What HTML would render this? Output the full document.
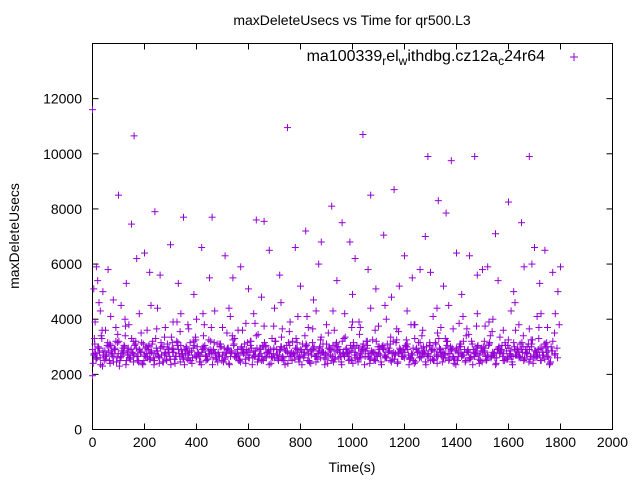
<!DOCTYPE html>
<html><head><meta charset="utf-8"><style>
html,body{margin:0;padding:0;background:#fff}
svg{display:block;font-family:"Liberation Sans",sans-serif}
</style></head><body>
<svg id="chart" width="640" height="480" viewBox="0 0 640 480" xmlns="http://www.w3.org/2000/svg">
<text x="352" y="25" font-size="14" text-anchor="middle">maxDeleteUsecs vs Time for qr500.L3</text>
<rect x="92.5" y="43.5" width="520" height="386" fill="none" stroke="#000" stroke-width="1"/>
<g id="axes"></g>
<g id="points"></g>
<text transform="translate(19,236) rotate(-90)" font-size="14" text-anchor="middle">maxDeleteUsecs</text>
<text x="352" y="472" font-size="14" text-anchor="middle">Time(s)</text>
<text x="545" y="61" font-size="16" text-anchor="end">ma100339<tspan dy="4" font-size="12">r</tspan><tspan dy="-4">el</tspan><tspan dy="4" font-size="12">w</tspan><tspan dy="-4">ithdbg.cz12a</tspan><tspan dy="4" font-size="12">c</tspan><tspan dy="-4">24r64</tspan></text>
<g stroke="#9400d3" stroke-width="1"><line x1="570" y1="57" x2="578" y2="57"/><line x1="574" y1="53" x2="574" y2="61"/></g>
</svg>
<script>
const xTicks=[0,200,400,600,800,1000,1200,1400,1600,1800,2000];
const yTicks=[0,2000,4000,6000,8000,10000,12000];
const bandA=[2900,3100,2600,2800,3300,2500,2700,3000,2850,2450,3200,2750,2600,2950,3400,2700,2550,2800,3050,2650,2900,3150,2500,2750,3000,2850,2600,3300,2700,2950,2450,2800,3100,2650,2900,2550,3200,2750,2850,2600,3000,2700,2500,2950,3350,2800,2650,2900,3050,2550,2750,2850,3150,2600,2700,3000,2450,2800,2950,2650,3250,2750,2900,2550,2800,3100,2700,2600,2950,2850,3400,2650,2750,2500,3000,2800,2900,2600,3200,2700,2850,2550,2950,3050,2650,2800,2750,3300,2600,2900,2700,3000,2500,2850,3150,2650,2750,2950,2800,2600,3100,2700,2900,2450,2850,3000,2650,2750,3350,2800,2550,2950,2700,3050,2600,2850,2900,3200,2650,2750,2800,2500,3000,2700,2950,2600,3100,2850,2750,2550,3250,2800,2650,2900,3000,2700,2600,2950,2450,2800,3150,2750,2850,2650,3050,2900,2550,2700,3300,2800,2600,2950,2750,3000,2650,2850,2500,3100,2700,2900,2800,2600,3200,2750,2950,2550,2850,3000,2650,2700,3400,2800,2600,2900,2750,3050,2500,2850,2950,2650,3150,2700,2800,2600,3000,2900,2750,2550,3250,2850,2650,2700,2950,3100,2800,2600,3000];
const bandB=[2700,2550,3000,2350,2850,2650,3150,2400,2750,2950,2600,2300,2850,3050,2500,2700,2900,2450,3200,2650,2800,2350,2950,2600,2750,3100,2500,2850,2400,2700,3000,2550,2800,2350,2950,2650,3150,2450,2750,2900,2550,2800,2400,3050,2650,2700,2350,2950,2500,2850,3200,2600,2750,2450,3000,2700,2550,2900,2350,2800,3100,2650,2500,2950,2750,2400,2850,3050,2600,2700,2450,2900,2550,3150,2800,2350,2650,2950,2700,2500,3000,2600,2850,2400,2750,3200,2550,2900,2650,2350,2800,3050,2500,2700,2950,2450,2850,2600,3100,2750,2400,2900,2650,2550,3000,2800,2350,2700,2950,2500,2850,3150,2600,2450,2750,2900,2650,3050,2400,2800,2550,2700,3000,2350,2950,2600,2850,2500,3200,2750,2450,2900,2650,2800,3100,2550,2700,2400,2950,2850,2600,3000,2350,2750,2500,2900,3150,2650,2800,2450,2700,3050,2550,2850,2400,2950,2650,2750,3200,2500,2900,2600,2350,2800,3000,2700,2450,2850,2550,3100,2650,2750,2400,2950,2800,2500,3050,2600,2700,2350,2900,2850,2650,3150,2550,2750,2450,3000,2700,2600,2900,2500,2800,3100,2650,2400,2850,2700,2950];
const bandC=[3300,3600,3100,3450,3750,3200,3500,3050,3650,3350,3150,3550,3800,3250,3400,3700,3100,3500,3300,3600,3200,3450,3050,3750,3350,3550,3150,3400,3650,3250,3500,3100,3300,3700,3450,3200,3600,3050,3350,3550,3250,3800,3400,3150,3500,3300,3650,3100,3450,3750,3200,3550,3350,3050,3600,3400,3250,3700,3150,3500];
const midT=[10,30,50,70,90,110,140,180,210,250,280,310,340,370,400,430,470,500,530,560,590,620,660,700,730,760,790,830,860,900,930,970,1000,1030,1070,1100,1130,1170,1210,1240,1270,1310,1340,1370,1410,1440,1480,1510,1540,1580,1610,1640,1680,1710,1750,1780,1795,25,125,225,325,425,525,625,725,825,925,1025,1125,1225,1325,1425,1525,1625,1725];
const midV=[3900,4300,3600,4100,3700,4500,3800,4200,3600,4400,3700,3900,4200,3650,4000,3800,4300,3700,4100,3600,3850,4200,3750,4400,3650,3900,4100,3700,4300,3800,3600,4200,3900,3700,4400,3750,4000,3650,4300,3800,3600,4100,3700,4500,3850,3650,4200,3750,4000,3600,4300,3800,3650,4100,3700,4200,3800,4600,4000,4500,3900,4200,4400,3850,4600,4100,4300,3900,4500,3800,4400,4100,3900,4600,4200];
const outT=[0,160,750,1040,1290,1380,1470,1680,100,240,350,460,630,660,920,960,1070,1160,1330,1360,1600,1650,1550,1280,1120,820,150,170,200,300,420,510,680,780,880,990,1010,1200,1400,1450,1520,1700,1740,1800,60,20,80,130,220,260,330,390,450,540,600,650,720,800,850,940,1000,1060,1090,1150,1230,1300,1350,1420,1480,1560,1620,1660,1720,1770,1790,5,0,15,40,570,870,1180,1260,1500,1690];
const outV=[11600,10650,10950,10700,9900,9750,9900,9900,8500,7900,7700,7700,7600,7550,8100,7500,8500,8700,8300,7850,8250,7500,7100,7000,7050,7200,7450,6200,6400,6700,6600,6300,6500,6600,6800,6800,6200,6300,6400,6300,5900,6600,6500,5900,5800,5400,4700,5300,5700,5600,5300,4900,5500,5500,5100,4800,5600,5200,4700,5400,4900,5800,5100,4800,5500,5700,5200,4900,5600,5400,5000,5900,5300,5700,5000,5100,1950,5900,5000,5900,6000,5200,5800,5800,6000];

const X=v=>92.5+v*520/2000, Y=v=>429.5-v*386/14000;
const NS="http://www.w3.org/2000/svg";
const ax=document.getElementById('axes'), pts=document.getElementById('points');
function mk(tag,attrs,parent){const e=document.createElementNS(NS,tag);for(const k in attrs)e.setAttribute(k,attrs[k]);parent.appendChild(e);return e;}
xTicks.forEach(t=>{
  const g=mk('g',{},ax);
  
  
  mk('line',{x1:X(t),x2:X(t),y1:429.5,y2:423.5,stroke:'#000'},g);
  mk('line',{x1:X(t),x2:X(t),y1:43.5,y2:49.5,stroke:'#000'},g);
  const tx=mk('text',{x:X(t),y:447,'font-size':14,'text-anchor':'middle'},g);tx.textContent=t;
});
yTicks.forEach(t=>{
  const g=mk('g',{},ax);
  
  
  mk('line',{x1:92.5,x2:98.5,y1:Y(t),y2:Y(t),stroke:'#000'},g);
  mk('line',{x1:612.5,x2:606.5,y1:Y(t),y2:Y(t),stroke:'#000'},g);
  const tx=mk('text',{x:82,y:Y(t)+5,'font-size':14,'text-anchor':'end'},g);tx.textContent=t;
});
function plus(t,v){
  const g=mk('g',{stroke:'#9400d3','stroke-width':1},pts);
  
  
  const x=X(t),y=Y(v);
  mk('line',{x1:x-3.5,x2:x+3.5,y1:y,y2:y},g);
  mk('line',{x1:x,x2:x,y1:y-3.5,y2:y+3.5},g);
}
bandA.forEach((v,i)=>plus(i*9,v));
bandB.forEach((v,i)=>plus(i*9+4.5,v));
bandA.forEach((v,i)=>plus(i*9+2.5,bandB[(i+7)%bandB.length]));
bandB.forEach((v,i)=>plus(i*9+6.5,bandA[(i+11)%bandA.length]));
bandC.forEach((v,i)=>plus(i*30+7,v));
midT.forEach((t,i)=>plus(t,midV[i]));
outT.forEach((t,i)=>plus(t,outV[i]));
</script>
</body></html>
